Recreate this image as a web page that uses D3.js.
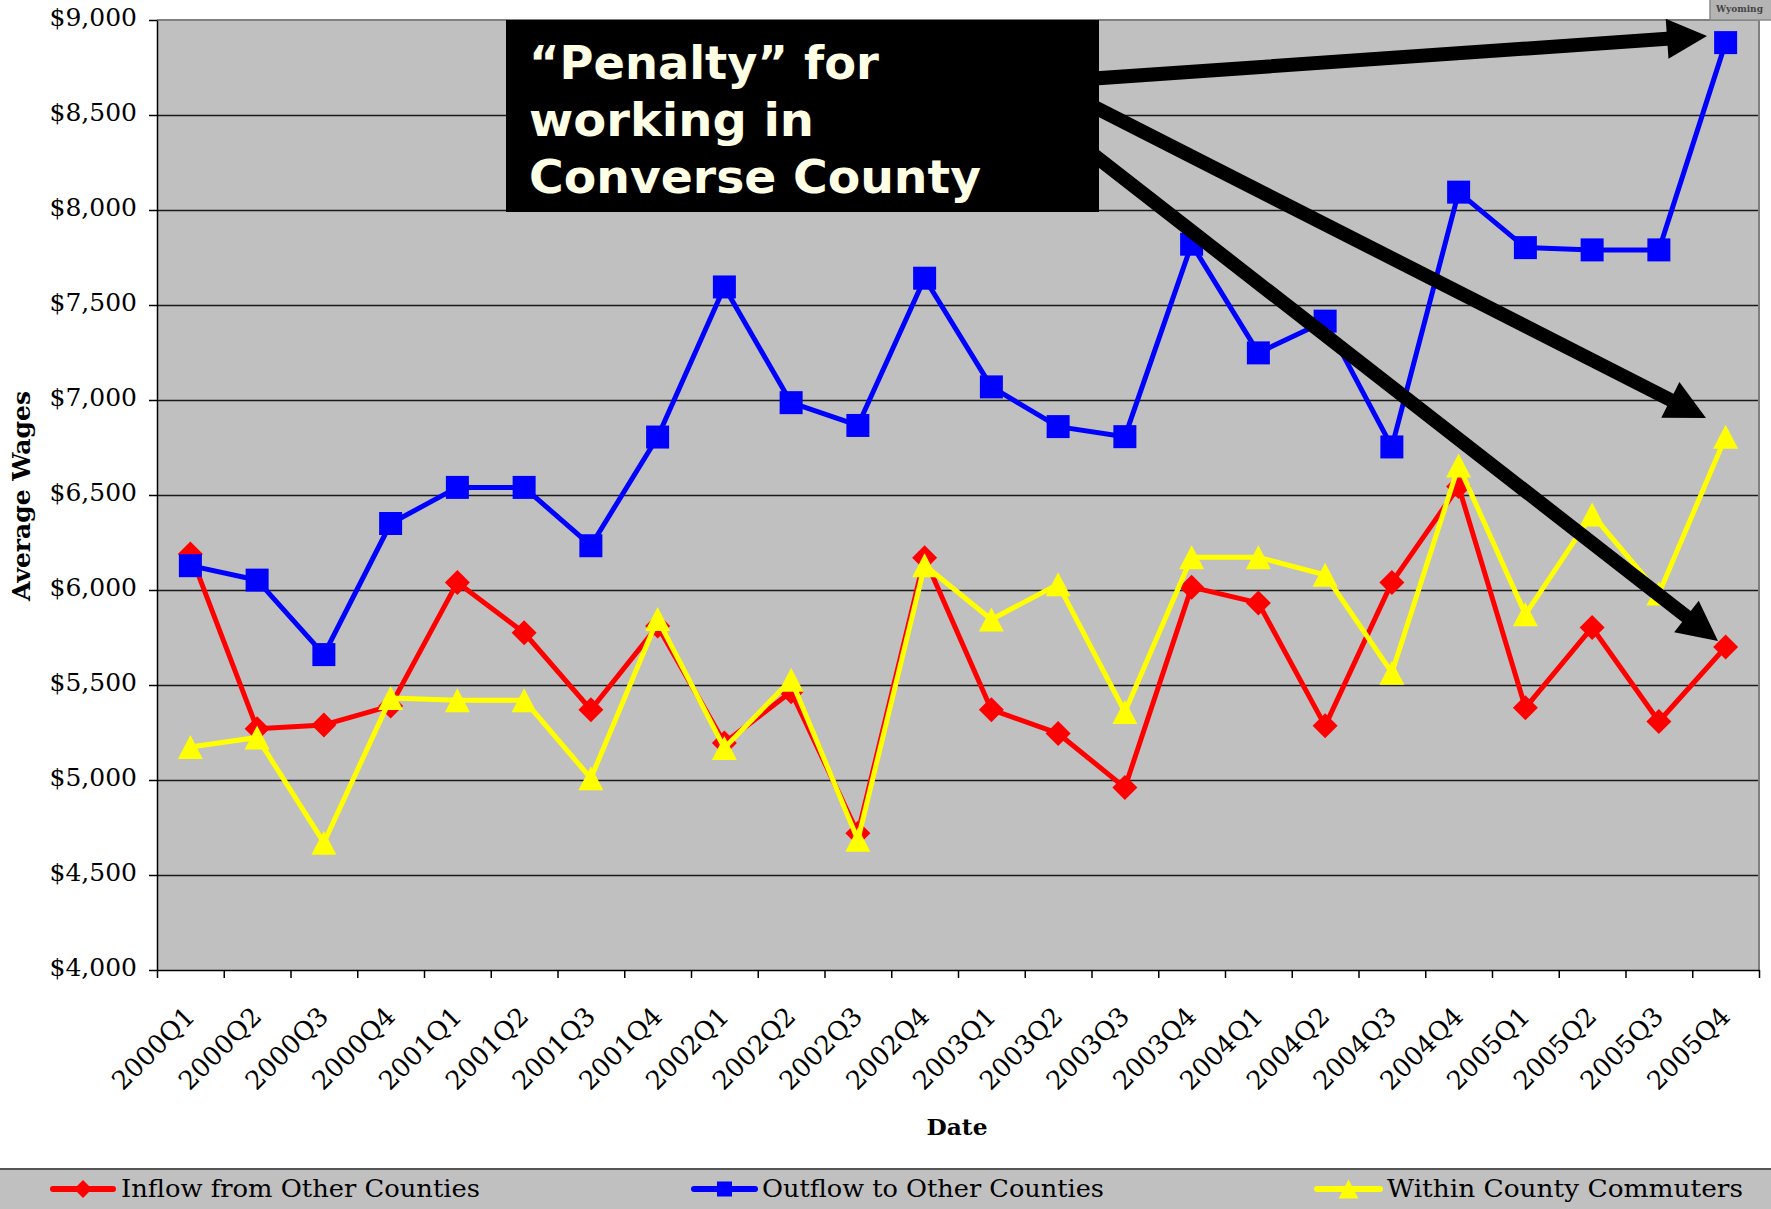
<!DOCTYPE html>
<html>
<head>
<meta charset="utf-8">
<script src="https://cdn.jsdelivr.net/npm/d3@7/dist/d3.min.js"></script>
<style>
  html, body { margin: 0; padding: 0; background: #fff; }
  svg { display: block; }
</style>
</head>
<body>
<svg id="chart" width="1771" height="1209"></svg>
<script>
// Quarterly average wages, Converse County commuting flows
const categories = ["2000Q1","2000Q2","2000Q3","2000Q4","2001Q1","2001Q2","2001Q3","2001Q4",
  "2002Q1","2002Q2","2002Q3","2002Q4","2003Q1","2003Q2","2003Q3","2003Q4",
  "2004Q1","2004Q2","2004Q3","2004Q4","2005Q1","2005Q2","2005Q3","2005Q4"];

const inflow  = [6190, 5270, 5290, 5390, 6040, 5775, 5370, 5810, 5195, 5465, 4720, 6170,
                 5370, 5245, 4960, 6015, 5932, 5285, 6040, 6545, 5380, 5803, 5308, 5700];
const outflow = [6128, 6052, 5660, 6350, 6540, 6540, 6233, 6805, 7595, 6986, 6866, 7641,
                 7069, 6860, 6807, 7820, 7248, 7415, 6753, 8094, 7802, 7790, 7790, 8881];
const within  = [5174, 5224, 4670, 5431, 5420, 5420, 5009, 5847, 5168, 5528, 4685, 6130,
                 5845, 6030, 5358, 6172, 6172, 6080, 5565, 6655, 5872, 6398, 5981, 6806];

const seriesNames = ["Inflow from Other Counties", "Outflow to Other Counties", "Within County Commuters"];
const yTicks = [4000, 4500, 5000, 5500, 6000, 6500, 7000, 7500, 8000, 8500, 9000];
const calloutLines = ["\u201CPenalty\u201D for", "working in", "Converse County"];

const svg = d3.select("#chart");
const W = 1771, H = 1209;
const plot = { left: 157, right: 1759, top: 20, bottom: 970 };

svg.append("rect").attr("width", W).attr("height", H).attr("fill", "#ffffff");

const x = d3.scaleBand().domain(categories).range([plot.left, plot.right]).padding(0);
const cx = d => x(d) + x.bandwidth() / 2;
const y = d3.scaleLinear().domain([4000, 9000]).range([plot.bottom, plot.top]);
const xEdges = d3.scaleLinear().domain([0, categories.length]).range([plot.left, plot.right]);

// plot background
svg.append("rect")
  .attr("x", plot.left).attr("y", plot.top)
  .attr("width", plot.right - plot.left).attr("height", plot.bottom - plot.top)
  .attr("fill", "#c0c0c0");

// horizontal gridlines
svg.append("g")
  .attr("transform", `translate(${plot.left},0)`)
  .call(d3.axisLeft(y).tickValues(yTicks.slice(1, -1)).tickSize(-(plot.right - plot.left)).tickFormat(""))
  .call(g => g.select(".domain").remove())
  .call(g => g.selectAll("line").attr("stroke", "#1a1a1a").attr("stroke-width", 1.3));

// grey frame on top and right
svg.append("line").attr("x1", plot.left).attr("x2", plot.right).attr("y1", plot.top).attr("y2", plot.top)
  .attr("stroke", "#808080").attr("stroke-width", 2);
svg.append("line").attr("x1", plot.right).attr("x2", plot.right).attr("y1", plot.top).attr("y2", plot.bottom)
  .attr("stroke", "#808080").attr("stroke-width", 2);

// y axis
const yAxis = svg.append("g")
  .attr("transform", `translate(${plot.left},0)`)
  .call(d3.axisLeft(y).tickValues(yTicks).tickFormat(d3.format("$,")).tickSize(8).tickSizeOuter(0).tickPadding(12));
yAxis.select(".domain").attr("stroke", "#000").attr("stroke-width", 1.5);
yAxis.selectAll(".tick line").attr("stroke", "#000").attr("stroke-width", 1.5);
yAxis.selectAll(".tick text")
  .attr("font-family", "'DejaVu Serif', serif").attr("font-size", 25).attr("fill", "#000")
  .attr("dy", "0.2em");

// x axis: tick marks on category boundaries
const xAxis = svg.append("g")
  .attr("transform", `translate(0,${plot.bottom})`)
  .call(d3.axisBottom(xEdges).tickValues(d3.range(0, categories.length + 1)).tickFormat("").tickSize(8).tickSizeOuter(0));
xAxis.select(".domain").attr("stroke", "#000").attr("stroke-width", 1.5);
xAxis.selectAll(".tick line").attr("stroke", "#000").attr("stroke-width", 1.5);

// rotated category labels
svg.append("g").selectAll("text")
  .data(categories).join("text")
  .attr("transform", d => `translate(${cx(d) + 6},${plot.bottom + 48}) rotate(-45)`)
  .attr("text-anchor", "end")
  .attr("font-family", "'DejaVu Serif', serif").attr("font-size", 26).attr("fill", "#000")
  .text(d => d);

// axis titles
svg.append("text")
  .attr("transform", "translate(30,496) rotate(-90)")
  .attr("text-anchor", "middle")
  .attr("font-family", "'DejaVu Serif', serif").attr("font-weight", "bold").attr("font-size", 24)
  .attr("textLength", 210).attr("lengthAdjust", "spacingAndGlyphs")
  .text("Average Wages");
svg.append("text")
  .attr("x", 957).attr("y", 1135)
  .attr("text-anchor", "middle")
  .attr("font-family", "'DejaVu Serif', serif").attr("font-weight", "bold").attr("font-size", 23)
  .attr("textLength", 61).attr("lengthAdjust", "spacingAndGlyphs")
  .text("Date");

// series
const line = d3.line().x((v, i) => cx(categories[i])).y(v => y(v));
const series = [
  { name: seriesNames[0], values: inflow,  color: "#ff0000", marker: "diamond" },
  { name: seriesNames[1], values: outflow, color: "#0000ff", marker: "square" },
  { name: seriesNames[2], values: within,  color: "#ffff00", marker: "triangle" }
];

function markerPath(type, s) {
  if (type === "square") return `M${-s},${-s}H${s}V${s}H${-s}Z`;
  if (type === "diamond") return `M0,${-s}L${s},0L0,${s}L${-s},0Z`;
  return `M0,${-s}L${s * 1.04},${s}L${-s * 1.04},${s}Z`;
}
const markerSize = { square: 11.5, diamond: 12.5, triangle: 12 };

series.forEach(s => {
  const g = svg.append("g");
  g.append("path").attr("d", line(s.values))
    .attr("fill", "none").attr("stroke", s.color).attr("stroke-width", 5)
    .attr("stroke-linejoin", "round");
  g.selectAll("path.mk").data(s.values).join("path").attr("class", "mk")
    .attr("transform", (v, i) => `translate(${cx(categories[i])},${y(v)})`)
    .attr("d", markerPath(s.marker, markerSize[s.marker]))
    .attr("fill", s.color);
});

// callout arrows
function arrowPoints(x0, y0, x1, y1, w, hl, hw) {
  const dx = x1 - x0, dy = y1 - y0, L = Math.hypot(dx, dy);
  const ux = dx / L, uy = dy / L, nx = -uy, ny = ux;
  const bx = x1 - ux * hl, by = y1 - uy * hl;
  return [
    [x0 + nx * w / 2, y0 + ny * w / 2], [bx + nx * w / 2, by + ny * w / 2],
    [bx + nx * hw / 2, by + ny * hw / 2], [x1, y1],
    [bx - nx * hw / 2, by - ny * hw / 2], [bx - nx * w / 2, by - ny * w / 2],
    [x0 - nx * w / 2, y0 - ny * w / 2]
  ].map(p => p.join(",")).join(" ");
}
const arrows = [
  [1000, 85, 1707, 36],
  [1000, 59, 1706, 418],
  [1000, 82, 1718, 641]
];
svg.append("g").selectAll("polygon").data(arrows).join("polygon")
  .attr("points", a => arrowPoints(a[0], a[1], a[2], a[3], 14, 40, 40))
  .attr("fill", "#000");

// callout box
svg.append("rect").attr("x", 506).attr("y", 20).attr("width", 593).attr("height", 192).attr("fill", "#000");
const calloutWidths = [350, 285, 452];
svg.append("g").selectAll("text").data(calloutLines).join("text")
  .attr("x", 529).attr("y", (d, i) => 79 + i * 57)
  .attr("font-family", "'DejaVu Sans', Verdana, sans-serif").attr("font-weight", "bold").attr("font-size", 46)
  .attr("fill", "#ffffe6")
  .attr("textLength", (d, i) => calloutWidths[i]).attr("lengthAdjust", "spacingAndGlyphs")
  .text(d => d);

// small tab in the top-right corner
svg.append("rect").attr("x", 1710).attr("y", -4).attr("width", 70).attr("height", 24)
  .attr("fill", "#b4b4b4").attr("stroke", "#8a8a8a").attr("stroke-width", 1.5);
svg.append("text").attr("x", 1716).attr("y", 12)
  .attr("font-family", "'DejaVu Serif', serif").attr("font-weight", "bold").attr("font-size", 9)
  .attr("fill", "#444").text("Wyoming");

// legend band
svg.append("rect").attr("x", 0).attr("y", 1169).attr("width", W).attr("height", 40).attr("fill", "#c0c0c0");
svg.append("line").attr("x1", 0).attr("x2", W).attr("y1", 1169).attr("y2", 1169)
  .attr("stroke", "#555").attr("stroke-width", 2);

const legendItems = [
  { s: series[0], x0: 53,   x1: 113,  tx: 121,  tw: 359 },
  { s: series[1], x0: 694,  x1: 755,  tx: 762,  tw: 342 },
  { s: series[2], x0: 1317, x1: 1380, tx: 1387, tw: 356 }
];
const legendMarkerSize = { square: 7.5, diamond: 9, triangle: 9.5 };
const lg = svg.append("g");
legendItems.forEach(it => {
  const ly = 1189;
  lg.append("line").attr("x1", it.x0).attr("x2", it.x1).attr("y1", ly).attr("y2", ly)
    .attr("stroke", it.s.color).attr("stroke-width", 6).attr("stroke-linecap", "round");
  lg.append("path").attr("transform", `translate(${(it.x0 + it.x1) / 2},${ly})`)
    .attr("d", markerPath(it.s.marker, legendMarkerSize[it.s.marker])).attr("fill", it.s.color);
  lg.append("text").attr("x", it.tx).attr("y", 1197)
    .attr("font-family", "'DejaVu Serif', serif").attr("font-size", 25).attr("fill", "#000")
    .attr("textLength", it.tw).attr("lengthAdjust", "spacingAndGlyphs")
    .text(it.s.name);
});
</script>
</body>
</html>
